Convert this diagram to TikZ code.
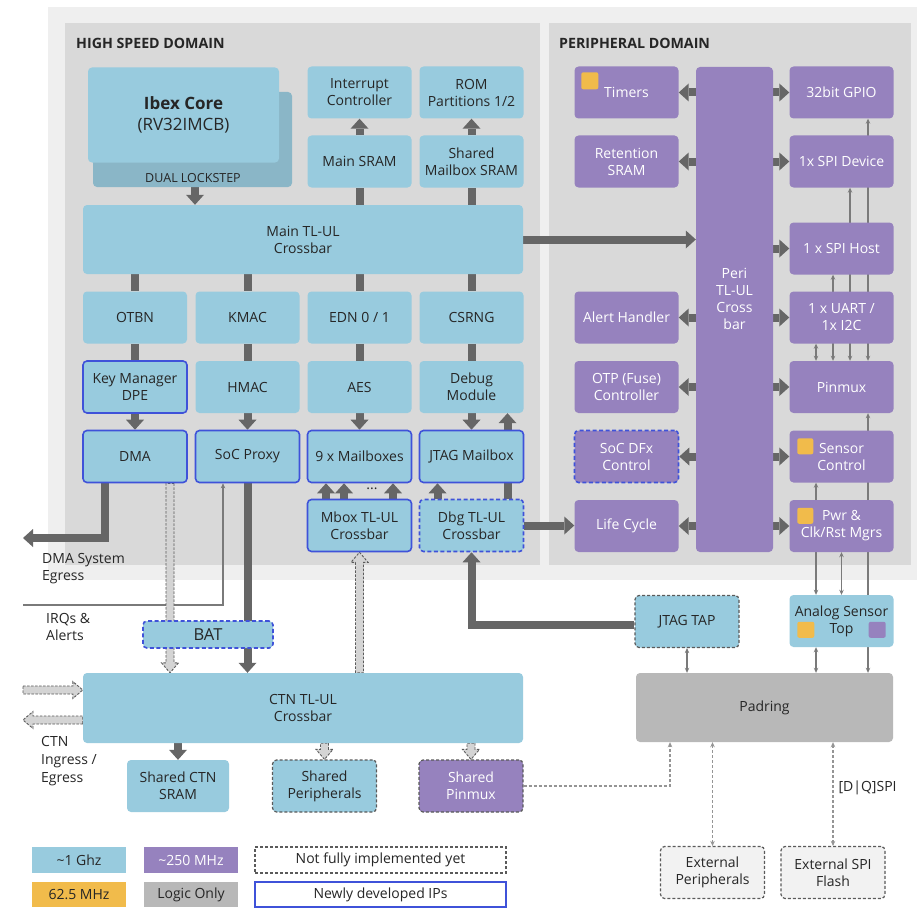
\documentclass[tikz,border=0pt]{standalone}
\usepackage{fontspec}
\setmainfont{Open Sans}
\usetikzlibrary{arrows.meta,calc}
\definecolor{hsblue}{HTML}{98CBDE}
\definecolor{ibexbk}{HTML}{8AB6C7}
\definecolor{perpurple}{HTML}{9682BE}
\definecolor{orangeclk}{HTML}{F1BB4B}
\definecolor{logicgray}{HTML}{B8B8B8}
\definecolor{arrgray}{HTML}{666666}
\definecolor{thingray}{HTML}{7A7A7A}
\definecolor{newblue}{HTML}{3F52D9}
\definecolor{dashgray}{HTML}{5A5A5A}
\definecolor{dashfill}{HTML}{D4D4D4}
\definecolor{outerbg}{HTML}{EFEFEF}
\definecolor{domainbg}{HTML}{D9D9D9}
\definecolor{extfill}{HTML}{F2F2F2}
\definecolor{txtdark}{HTML}{262626}
\pgfdeclarelayer{back}
\pgfdeclarelayer{conn}
\pgfsetlayers{back,conn,main}
\newcommand\fatarr[3]{%
  \coordinate (fa1) at #2;
  \coordinate (fa2) at #3;
  \coordinate (fa3) at ($(fa2)!10pt!(fa1)$);
  \path[#1] ($(fa1)!4pt!90:(fa2)$) -- ($(fa3)!4pt!90:(fa2)$) -- ($(fa3)!8.5pt!90:(fa2)$) -- (fa2)
     -- ($(fa3)!8.5pt!-90:(fa2)$) -- ($(fa3)!4pt!-90:(fa2)$) -- ($(fa1)!4pt!-90:(fa2)$) -- cycle;
}
\tikzset{
  box/.style={rounded corners=4pt, minimum width=104pt, minimum height=52pt, inner sep=1pt, align=center, text=txtdark},
  hs/.style={box, fill=hsblue},
  pp/.style={box, fill=perpurple, text=white},
  newip/.style={draw=newblue, line width=1.6pt},
  newdash/.style={draw=newblue, line width=1.6pt, dash pattern=on 4pt off 2.5pt},
  notimpl/.style={draw=dashgray, line width=1.2pt, dash pattern=on 3pt off 2pt},
  fatline/.style={draw=arrgray, line width=8pt},
  fat/.style={fatline, -{Triangle[length=10pt,width=18pt,line width=0pt]}},
  dasharrow/.style={fill=dashfill, draw=dashgray, line width=0.9pt, dash pattern=on 2.5pt off 1.5pt},
  thinboth/.style={draw=thingray, line width=1.1pt, {Stealth[length=5pt,width=4.5pt]}-{Stealth[length=5pt,width=4.5pt]}},
  thinarr/.style={draw=thingray, line width=1.1pt, -{Stealth[length=5pt,width=4.5pt]}},
  thindash/.style={draw=thingray!80, line width=1.1pt, dash pattern=on 3pt off 2pt},
  lbl/.style={anchor=west, align=left, inner sep=0pt, text=txtdark},
  legend/.style={box, rounded corners=0pt, minimum height=26pt}
}
\begin{document}
\begin{tikzpicture}[x=1pt,y=-1pt,font=\fontsize{14}{17}\selectfont]
\useasboundingbox (0,0) rectangle (918,923);
\begin{pgfonlayer}{back}
\fill[white] (0,0) rectangle (918,923);
\fill[outerbg] (48,7) rectangle (917,580);
\fill[domainbg] (65,23) rectangle (540,565);
\fill[domainbg] (549,23) rectangle (911,565);
\end{pgfonlayer}
\node[lbl, font=\bfseries\fontsize{14.2}{16}\selectfont] (hstitle) at (76,43) {HIGH SPEED DOMAIN};
\node[lbl, font=\bfseries\fontsize{14.2}{16}\selectfont] (pdtitle) at (559,43) {PERIPHERAL DOMAIN};

% Ibex
\node[box, fill=ibexbk, minimum width=199pt, minimum height=95pt] (ibexback) at (192.5,139.5) {};
\node[text=txtdark, font=\fontsize{12.5}{15}\selectfont] (lockstep) at (193,178) {DUAL LOCKSTEP};
\node[hs, minimum width=191pt, minimum height=95pt, font=\fontsize{17}{21}\selectfont] (ibex) at (183.5,115) {\textbf{Ibex Core}\\(RV32IMCB)};

\node[hs] (intc) at (359.5,92.5) {Interrupt\\Controller};
\node[hs] (rom) at (471.5,92.5) {ROM\\Partitions 1/2};
\node[hs] (mainsram) at (359.5,161.5) {Main SRAM};
\node[hs] (mbsram) at (471.5,161.5) {Shared\\Mailbox SRAM};
\node[hs, minimum width=440pt, minimum height=69pt] (mainx) at (303,239.5) {Main TL-UL\\Crossbar};

\node[hs] (otbn) at (135,317.5) {OTBN};
\node[hs] (kmac) at (247.5,317.5) {KMAC};
\node[hs] (edn) at (359.5,317.5) {EDN 0 / 1};
\node[hs] (csrng) at (471.5,317.5) {CSRNG};
\node[hs, newip] (keymgr) at (135,387) {Key Manager\\DPE};
\node[hs] (hmac) at (247.5,387) {HMAC};
\node[hs] (aes) at (359.5,387) {AES};
\node[hs] (debug) at (471.5,387) {Debug\\Module};
\node[hs, newip] (dma) at (135,456.5) {DMA};
\node[hs, newip] (soc) at (247.5,456.5) {SoC Proxy};
\node[hs, newip] (mbx) at (359.5,456.5) {9 x Mailboxes};
\node[hs, newip] (jtagmb) at (471.5,456.5) {JTAG Mailbox};
\node[hs, newip] (mboxx) at (359.5,525.5) {Mbox TL-UL\\Crossbar};
\node[hs, newdash] (dbgx) at (471.5,525.5) {Dbg TL-UL\\Crossbar};
\node[inner sep=0pt, text=txtdark] (dots) at (372,489) {...};

% Peripheral domain
\node[pp] (timers) at (626.5,92.5) {Timers};
\node[pp] (retsram) at (626.5,161.5) {Retention\\SRAM};
\node[pp] (alert) at (626.5,317.5) {Alert Handler};
\node[pp] (otp) at (626.5,387) {OTP (Fuse)\\Controller};
\node[pp, newdash] (dfx) at (626.5,456.5) {SoC DFx\\Control};
\node[pp] (life) at (626.5,526) {Life Cycle};
\node[box, fill=perpurple, minimum width=77pt, minimum height=485pt] (perix) at (734.5,309.5) {};
\node[text=white, align=center, inner sep=0pt] (perixtxt) at (734.5,299) {Peri\\TL-UL\\Cross\\bar};
\node[pp] (gpio) at (841.5,92.5) {32bit GPIO};
\node[pp] (spidev) at (841.5,161.5) {1x SPI Device};
\node[pp] (spihost) at (841.5,248.5) {1 x SPI Host};
\node[pp] (uart) at (841.5,317.5) {1 x UART /\\1x I2C};
\node[pp] (pinmux) at (841.5,387) {Pinmux};
\node[pp] (sensor) at (841.5,456.5) {Sensor\\Control};
\node[pp] (pwr) at (841.5,526) {Pwr \&\\Clk/Rst Mgrs};
\fill[orangeclk, rounded corners=2pt] ($(timers.north west)+(7,6)$) rectangle ++(17,17);
\fill[orangeclk, rounded corners=2pt] ($(sensor.north west)+(8,8)$) rectangle ++(16,16);
\fill[orangeclk, rounded corners=2pt] ($(pwr.north west)+(8,8)$) rectangle ++(16,16);

% lower part
\node[hs, notimpl] (jtagtap) at (687,621.5) {JTAG TAP};
\node[hs] (analog) at (841.5,621) {Analog Sensor\\Top};
\fill[orangeclk, rounded corners=2pt] ($(analog.north west)+(8,27)$) rectangle ++(17,16);
\fill[perpurple, rounded corners=2pt] ($(analog.north east)+(-25,27)$) rectangle ++(17,16);
\node[box, fill=logicgray, minimum width=257pt, minimum height=69pt] (padring) at (764.5,707.5) {Padring};
\node[box, fill=extfill, notimpl] (extper) at (712.5,872.5) {External\\Peripherals};
\node[box, fill=extfill, notimpl] (extflash) at (833,872.5) {External SPI\\Flash};

\node[hs, newdash, minimum width=130pt, minimum height=27pt, font=\fontsize{16.5}{19}\selectfont] (bat) at (208,634.5) {BAT};
\node[hs, minimum width=440pt, minimum height=70pt] (ctn) at (303,708) {CTN TL-UL\\Crossbar};
\node[hs, minimum width=102pt] (ctnsram) at (178,786) {Shared CTN\\SRAM};
\node[hs, notimpl] (shper) at (324.5,786) {Shared\\Peripherals};
\node[pp, notimpl] (shpin) at (471,786) {Shared\\Pinmux};

\node[lbl] (egtxt) at (42,568.5) {DMA System\\Egress};
\node[lbl] (irqtxt) at (46,626.5) {IRQs \&\\Alerts};
\node[lbl, font=\fontsize{14}{18}\selectfont] (ctntxt) at (41,761) {CTN\\Ingress /\\Egress};

% legend
\node[legend, fill=hsblue, minimum width=94pt] (lg1) at (79,860) {\textasciitilde 1 Ghz};
\node[legend, fill=perpurple, text=white, minimum width=94pt] (lg2) at (191,860) {\textasciitilde 250 MHz};
\node[legend, fill=orangeclk, minimum width=94pt, minimum height=25pt] (lg3) at (79,894.5) {62.5 MHz};
\node[legend, fill=logicgray, minimum width=94pt, minimum height=25pt] (lg4) at (191,894.5) {Logic Only};
\node[legend, fill=white, notimpl, minimum width=251pt] (lg5) at (380.5,860) {Not fully implemented yet};
\node[legend, fill=white, newip, minimum width=251pt, minimum height=25pt] (lg6) at (380.5,894.5) {Newly developed IPs};

\begin{pgfonlayer}{conn}
% high speed domain
\draw[fat] ($(ibexback.south)+(2.5,0)$) -- ($(mainx.north)+(-108,0)$);
\draw[fat] (mainsram) -- (intc);
\draw[fat] (mbsram) -- (rom);
\draw[fatline] (mainx.north -| mainsram.south) -- (mainsram.south);
\draw[fatline] (mainx.north -| mbsram.south) -- (mbsram.south);
\foreach \n in {otbn,kmac,edn,csrng} \draw[fatline] (mainx.south -| \n.north) -- (\n.north);
\draw[fatline] (otbn) -- (keymgr);
\draw[fatline] (kmac) -- (hmac);
\draw[fatline] (edn) -- (aes);
\draw[fatline] (csrng) -- (debug);
\draw[fat] (keymgr) -- (dma);
\draw[fat] (hmac) -- (soc);
\draw[fat] (aes) -- (mbx);
\draw[fat] (debug) -- (jtagmb);
\draw[fat] ($(jtagmb.north)+(36,0)$) -- ($(debug.south)+(36,0)$);
\draw[fatline] ($(dbgx.north)+(36,0)$) -- ($(jtagmb.south)+(36,0)$);
\draw[fat] ($(dbgx.north)+(-34,0)$) -- ($(jtagmb.south)+(-34,0)$);
\foreach \d in {-33.5,-15.5,33.5} \draw[fat] ($(mboxx.north)+(\d,0)$) -- ($(mbx.south)+(\d,0)$);
\draw[fat] (mainx.east) -- (mainx.east -| perix.west);
\draw[fat] (dbgx.east) -- (dbgx.east -| life.west);
% peripheral domain
\foreach \n in {timers,retsram,alert,otp,dfx,life} \draw[fat] (perix.west |- \n) -- (\n.east);
\foreach \n in {gpio,spidev,spihost,uart,pinmux,sensor,pwr} \draw[fat] (perix.east |- \n) -- (\n.west);
\draw[thinboth] ($(uart.south)+(-25.5,0)$) -- ($(pinmux.north)+(-25.5,0)$);
\draw[thinboth] ($(spihost.south)+(-8.5,0)$) -- ($(pinmux.north)+(-8.5,0)$);
\draw[thinboth] ($(spidev.south)+(8.5,0)$) -- ($(pinmux.north)+(8.5,0)$);
\draw[thinboth] ($(gpio.south)+(26.5,0)$) -- ($(pinmux.north)+(26.5,0)$);
\draw[thinboth] ($(pinmux.south)+(26.5,0)$) -- ($(padring.north)+(103.5,0)$);
\draw[thinboth] ($(sensor.south)+(-25.5,0)$) -- ($(analog.north)+(-25.5,0)$);
\draw[thinboth] (pwr.south) -- (analog.north);
\draw[thinboth] ($(analog.south)+(-25.5,0)$) -- ($(padring.north)+(51.5,0)$);
\draw[thinboth] (jtagtap.south) -- (jtagtap.south |- padring.north);
% lower part
\coordinate (egL) at (23,538);
\draw[fat] ($(dma.south)+(-30,0)$) |- (egL);
\coordinate (irqL) at (23,605);
\draw[thinarr] (irqL) -| ($(soc.south)+(-24.5,0)$);
\draw[fat] (soc.south) -- (soc.south |- ctn.north);
\fatarr{dasharrow}{($(dma.south)+(35,0)$)}{($(ctn.north)+(-133,0)$)}
\fatarr{dasharrow}{(mboxx.south |- ctn.north)}{(mboxx.south)}
\coordinate (ctnin) at (23,690);
\fatarr{dasharrow}{(ctnin)}{(ctnin -| ctn.west)}
\coordinate (ctnout) at (23,720);
\fatarr{dasharrow}{(ctnout -| ctn.west)}{(ctnout)}
\draw[fat] (ctn.south -| ctnsram.north) -- (ctnsram.north);
\fatarr{dasharrow}{(ctn.south -| shper.north)}{(shper.north)}
\fatarr{dasharrow}{(ctn.south -| shpin.north)}{(shpin.north)}
\draw[fat] ($(jtagtap.west)+(0,3.5)$) -| (dbgx.south);
\draw[thindash, -{Stealth[length=5pt,width=4.5pt]}] (shpin.east) -| ($(padring.south)+(-94.5,0)$);
\draw[thindash, {Stealth[length=5pt,width=4.5pt]}-{Stealth[length=5pt,width=4.5pt]}] (extper.north) -- (extper.north |- padring.south);
\draw[thindash, {Stealth[length=5pt,width=4.5pt]}-{Stealth[length=5pt,width=4.5pt]}] (extflash.north) -- (extflash.north |- padring.south) node[pos=0.56, anchor=west, inner sep=0pt, xshift=5pt, text=txtdark] (spilbl) {[D|Q]SPI};
\end{pgfonlayer}
\end{tikzpicture}
\end{document}
